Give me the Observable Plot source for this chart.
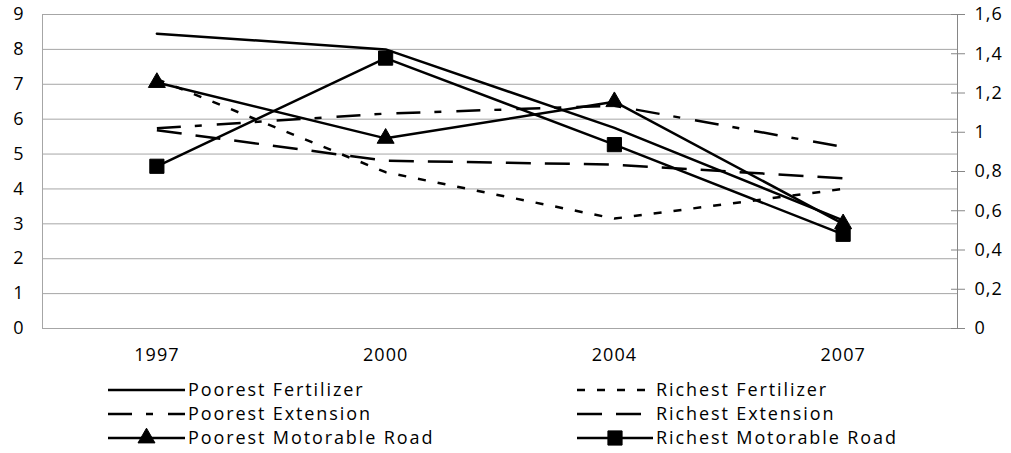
<!DOCTYPE html>
<html>
<head>
<meta charset="utf-8">
<script src="https://cdn.jsdelivr.net/npm/d3@7"></script>
<script src="https://cdn.jsdelivr.net/npm/@observablehq/plot@0.6"></script>
<style>
  html, body { margin: 0; padding: 0; background: #fff; }
  #chart svg, #legend svg { display: block; }
  #chart svg text { letter-spacing: 1px; }
</style>
</head>
<body>
<div id="chart"></div>
<div id="legend"></div>
<script>
// ---- data ----
const years = ["1997", "2000", "2004", "2007"];
// left axis (0–9)
const poorestFertilizer = [8.45, 8.0, 5.75, 3.1];
const richestFertilizer = [7.15, 4.48, 3.15, 4.0];
const poorestRoad = [7.05, 5.45, 6.5, 3.0];
const richestRoad = [4.65, 7.75, 5.27, 2.7];
// right axis (0–1,6)
const poorestExtension = [1.02, 1.095, 1.135, 0.925];
const richestExtension = [1.01, 0.855, 0.835, 0.765];

const leftTicks = [0, 1, 2, 3, 4, 5, 6, 7, 8, 9];
const rightTicks = [0, 0.2, 0.4, 0.6, 0.8, 1, 1.2, 1.4, 1.6];
const leftMax = 9, rightMax = 1.6;
const toLeft = v => v * leftMax / rightMax;
const fmtComma = d => String(d).replace(".", ",");

const series = [
  {name: "Poorest Fertilizer", values: poorestFertilizer, axis: "left", dash: null, symbol: null},
  {name: "Richest Fertilizer", values: richestFertilizer, axis: "left", dash: "8,12", symbol: null},
  {name: "Poorest Extension", values: poorestExtension, axis: "right", dash: "24,14,7,15", symbol: null},
  {name: "Richest Extension", values: richestExtension, axis: "right", dash: "25,14", symbol: null},
  {name: "Poorest Motorable Road", values: poorestRoad, axis: "left", dash: null, symbol: "triangle"},
  {name: "Richest Motorable Road", values: richestRoad, axis: "left", dash: null, symbol: "square"}
];
const symbolR = {triangle: 6.3, square: 8};

const xPos = (d, i) => i + 0.5;
const yOf = s => (s.axis === "right" ? d => toLeft(d) : d => d);

const lineMarks = series.map(s => Plot.line(s.values, {
  x: xPos, y: yOf(s), stroke: "black", strokeWidth: 2.5,
  strokeDasharray: s.dash, strokeLinecap: s.dash ? "butt" : "round", strokeLinejoin: "round"
}));
const dotMarks = series.filter(s => s.symbol).map(s => Plot.dot(s.values, {
  x: xPos, y: yOf(s), symbol: s.symbol, r: symbolR[s.symbol], fill: "black", stroke: "black", strokeWidth: 1
}));

const chart = Plot.plot({
  width: 1011,
  height: 370,
  marginLeft: 42,
  marginRight: 54,
  marginTop: 14,
  marginBottom: 42,
  x: {domain: [0, years.length], axis: null},
  y: {domain: [0, leftMax], axis: null},
  style: {fontFamily: "Open Sans", fontSize: "18px", background: "white", color: "black"},
  marks: [
    Plot.ruleY(leftTicks, {stroke: "#a6a6a6", strokeWidth: 1}),
    Plot.ruleX([0], {stroke: "#a6a6a6"}),
    Plot.ruleX([years.length], {stroke: "#868686"}),
    Plot.axisY(leftTicks, {anchor: "left", tickSize: 0, tickPadding: 18, fontSize: 18, label: null}),
    Plot.axisY(rightTicks, {anchor: "right", y: toLeft, tickSize: 14, dx: -7, fill: "none", stroke: "#868686", label: null}),
    Plot.axisY(rightTicks, {anchor: "right", y: toLeft, tickSize: 0, tickPadding: 17, fontSize: 18, tickFormat: fmtComma, label: null}),
    Plot.axisX(years, {x: xPos, tickSize: 0, tickPadding: 20, fontSize: 18, tickFormat: d => d, label: null}),
    ...lineMarks,
    ...dotMarks
  ]
});
document.getElementById("chart").appendChild(chart);

// ---- legend ----
const legend = d3.create("svg")
  .attr("width", 1011).attr("height", 83)
  .style("font-family", "Open Sans").style("font-size", "18px");
const colX = [[108, 185], [577, 653]];
const rowY = [20, 44, 68];
series.forEach((s, k) => {
  const [x0, x1] = colX[k % 2];
  const y = rowY[Math.floor(k / 2)];
  const g = legend.append("g");
  g.append("line").attr("x1", x0).attr("x2", x1).attr("y1", y).attr("y2", y)
    .attr("stroke", "black").attr("stroke-width", 2.5)
    .attr("stroke-dasharray", s.dash).attr("stroke-linecap", "butt");
  if (s.symbol) {
    const r = symbolR[s.symbol];
    const sym = s.symbol === "triangle" ? d3.symbolTriangle : d3.symbolSquare;
    g.append("path").attr("d", d3.symbol(sym, Math.PI * r * r)())
      .attr("transform", `translate(${(x0 + x1) / 2},${y})`)
      .attr("fill", "black").attr("stroke", "black").attr("stroke-width", 1);
  }
  g.append("text").attr("x", x1 + 3).attr("y", y).attr("dy", "0.35em")
    .attr("letter-spacing", "1.9px").attr("fill", "black").text(s.name);
});
document.getElementById("legend").appendChild(legend.node());
</script>
</body>
</html>
